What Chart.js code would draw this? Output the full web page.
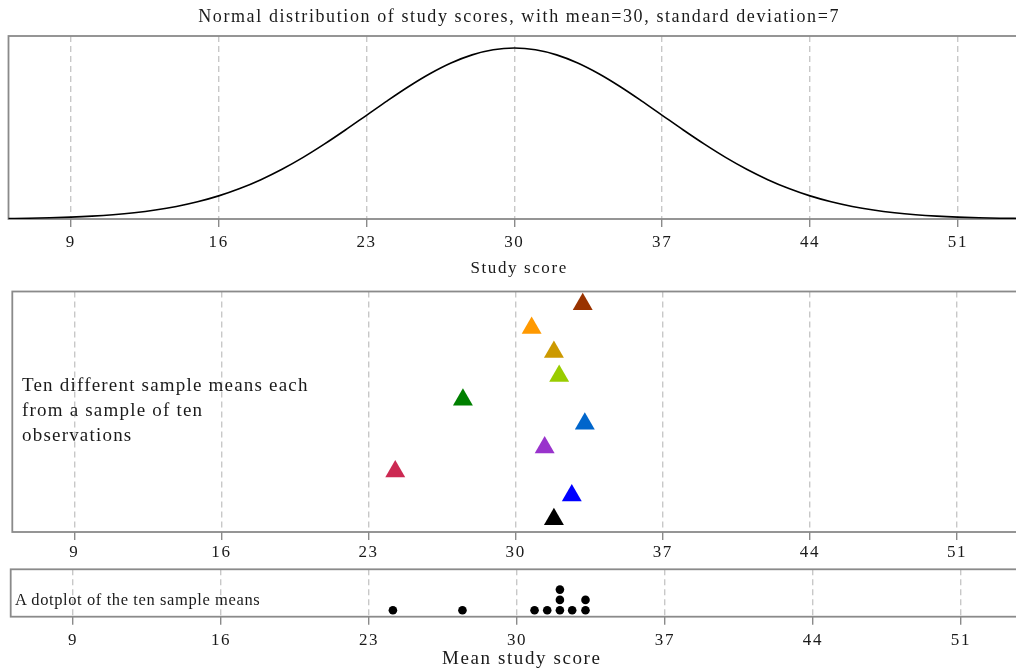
<!DOCTYPE html>
<html>
<head>
<meta charset="utf-8">
<script src="https://cdn.jsdelivr.net/npm/chart.js@4.4.1/dist/chart.umd.min.js"></script>
<style>
  html, body { margin: 0; padding: 0; background: #fff; overflow: hidden; width: 1016px; height: 668px; }
  .panel { position: absolute; left: 0; width: 1040px; }
  .note { position: absolute; font-family: "Liberation Serif", serif; color: #1a1a1a; white-space: nowrap; }
</style>
</head>
<body>
<div class="panel" style="top:0;height:282px"><canvas id="dist"></canvas></div>
<div class="panel" style="top:280px;height:285px"><canvas id="means"></canvas></div>
<div class="panel" style="top:565px;height:110px"><canvas id="dots"></canvas></div>
<div class="note" style="left:22px;top:372px;font-size:19px;letter-spacing:1.2px;line-height:25px">Ten different sample means each<br>from a sample of ten<br>observations</div>
<div class="note" style="left:15px;top:590px;font-size:16.5px;letter-spacing:0.6px">A dotplot of the ten sample means</div>
<script>
// study score grid and the density
const scores = [6, 7, 8, 9, 10, 11, 12, 13, 14, 15, 16, 17, 18, 19, 20, 21, 22, 23, 24, 25, 26, 27, 28, 29, 30,
  31, 32, 33, 34, 35, 36, 37, 38, 39, 40, 41, 42, 43, 44, 45, 46, 47, 48, 49, 50, 51, 52, 53, 54];
const density = [0.00016, 0.00026, 0.00041, 0.00063, 0.00096, 0.00143, 0.00209, 0.00299, 0.00418, 0.00574,
  0.00771, 0.01016, 0.01311, 0.01658, 0.02054, 0.02494, 0.02966, 0.03457, 0.03947, 0.04416, 0.04841, 0.05199,
  0.05471, 0.05641, 0.05699, 0.05641, 0.05471, 0.05199, 0.04841, 0.04416, 0.03947, 0.03457, 0.02966, 0.02494,
  0.02054, 0.01658, 0.01311, 0.01016, 0.00771, 0.00574, 0.00418, 0.00299, 0.00209, 0.00143, 0.00096, 0.00063,
  0.00041, 0.00026, 0.00016];

const xTicks = [9, 16, 23, 30, 37, 44, 51];

// ten samples, numbered from the bottom row up
const sampleNo = [1, 2, 3, 4, 5, 6, 7, 8, 9, 10];
const sampleMeans = [31.82, 32.67, 24.27, 31.38, 33.29, 27.49, 32.07, 31.82, 30.76, 33.19];
const sampleColours = ["#000000", "#0000ff", "#cc2952", "#9933cc", "#0066cc", "#008000", "#99cc00", "#cc9900", "#ff9900", "#993300"];

// dotplot: binned means and stack height
const dotMeans = [24.13, 27.42, 30.83, 31.43, 32.03, 32.03, 32.03, 32.61, 33.24, 33.24];
const dotStack = [1, 1, 1, 1, 1, 2, 3, 1, 1, 2];

const FONT = '"Liberation Serif", serif';
const INK = "#1a1a1a";

const boxPlugin = {
  id: "box",
  beforeDraw(chart) {
    chart.ctx.letterSpacing = "1.6px";
  },
  beforeDatasetsDraw(chart) {
    const { ctx, chartArea: a } = chart;
    ctx.save();
    ctx.strokeStyle = "#8a8a8a";
    ctx.lineWidth = 1.8;
    ctx.strokeRect(a.left, a.top, a.right - a.left, a.bottom - a.top);
    ctx.restore();
  },
};

function xAxis(axisHeight, tickPad, title, titleSize, titlePad) {
  return {
    type: "linear",
    min: 6.05,
    max: 54.4,
    afterBuildTicks: (s) => { s.ticks = xTicks.map((v) => ({ value: v })); },
    afterFit: (s) => { s.height = axisHeight; },
    grid: { color: "#c8c8c8", lineWidth: 1.4, tickColor: "#8a8a8a", tickLength: 8, tickWidth: 1.4, tickBorderDash: [] },
    border: { display: false, dash: [6, 4] },
    ticks: { color: INK, font: { family: FONT, size: 17 }, padding: tickPad, maxRotation: 0 },
    title: {
      display: !!title,
      text: title || "",
      color: INK,
      font: { family: FONT, size: titleSize || 17 },
      padding: { top: 0, bottom: titlePad || 0 },
    },
  };
}

Chart.defaults.animation = false;

new Chart(document.getElementById("dist"), {
  type: "line",
  data: {
    datasets: [{
      data: scores.map((s, i) => ({ x: s, y: density[i] })),
      borderColor: "#000",
      borderWidth: 1.6,
      pointRadius: 0,
      cubicInterpolationMode: "monotone",
    }],
  },
  options: {
    responsive: true,
    maintainAspectRatio: false,
    layout: { padding: { left: 8.5, right: 10.3, top: 0, bottom: 0 } },
    plugins: {
      legend: { display: false },
      tooltip: { enabled: false },
      title: {
        display: true,
        text: "Normal distribution of study scores, with mean=30, standard deviation=7",
        color: INK,
        font: { family: FONT, size: 18, weight: "normal" },
        padding: { top: 6, bottom: 8.4 },
      },
    },
    scales: {
      x: xAxis(63, 5.5, "Study score", 17, 3.5),
      y: { display: false, min: 0, max: 0.061 },
    },
  },
  plugins: [boxPlugin],
});

new Chart(document.getElementById("means"), {
  type: "scatter",
  data: {
    datasets: [{
      data: sampleNo.map((n, i) => ({ x: sampleMeans[i], y: n })),
      pointStyle: "triangle",
      pointRadius: 11.5,
      borderWidth: 0,
      backgroundColor: sampleColours,
      pointBackgroundColor: sampleColours,
    }],
  },
  options: {
    responsive: true,
    maintainAspectRatio: false,
    layout: { padding: { left: 12.3, right: 8.5, top: 9, bottom: 0 } },
    plugins: { legend: { display: false }, tooltip: { enabled: false } },
    scales: {
      x: xAxis(33, 2.7),
      y: { display: false, min: 0.47, max: 10.53 },
    },
  },
  plugins: [boxPlugin],
});

new Chart(document.getElementById("dots"), {
  type: "scatter",
  data: {
    datasets: [{
      data: dotMeans.map((m, i) => ({ x: m, y: dotStack[i] })),
      pointStyle: "circle",
      pointRadius: 4.3,
      borderWidth: 0,
      backgroundColor: "#000",
    }],
  },
  options: {
    responsive: true,
    maintainAspectRatio: false,
    layout: { padding: { left: 10.7, right: 7.2, top: 4.3, bottom: 0 } },
    plugins: { legend: { display: false }, tooltip: { enabled: false } },
    scales: {
      x: xAxis(58.3, 6, "Mean study score", 19, 5),
      y: { display: false, min: 0.37, max: 4.97 },
    },
  },
  plugins: [boxPlugin],
});
</script>
</body>
</html>
